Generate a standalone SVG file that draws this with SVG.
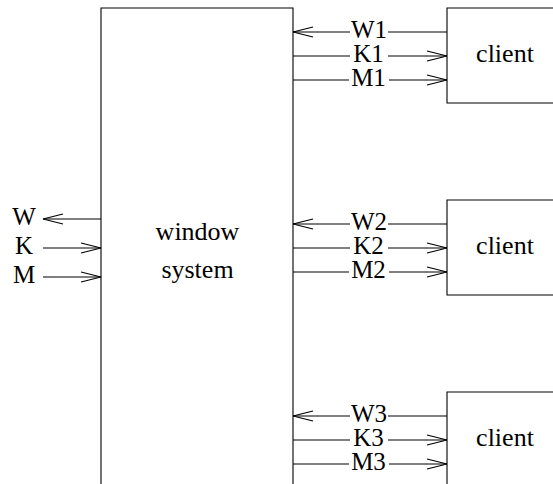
<svg xmlns="http://www.w3.org/2000/svg" width="553" height="484" viewBox="0 0 553 484">
<style>
.box{fill:none;stroke:#000;stroke-width:1.1}
.ln{fill:none;stroke:#000;stroke-width:1.1;marker-end:url(#ah)}
text{font-family:"Liberation Serif","Times New Roman",serif;fill:#000}
.lbl{font-size:25px;text-anchor:middle}
.big{font-size:26px;text-anchor:middle}
.bg{fill:#fff}
</style>
<defs>
<marker id="ah" markerUnits="userSpaceOnUse" viewBox="-22 -7 24 14" refX="0" refY="0" markerWidth="24" markerHeight="14" orient="auto">
<path d="M-20,-5 L0,0 L-20,5" fill="none" stroke="#000" stroke-width="1.1"/>
</marker>
</defs>
<rect width="553" height="484" fill="#fff"/>
<g id="window-system">
<path class="box" d="M101,500 V8 H293 V500"/>
<text class="big" x="197.5" y="240">window</text>
<text class="big" x="197.5" y="278">system</text>
</g>
<g id="client1">
<path class="box" d="M560,8 H447 V103 H560"/>
<text class="big" x="505" y="62">client</text>
</g>
<g id="client2">
<path class="box" d="M560,200 H447 V295 H560"/>
<text class="big" x="505" y="254">client</text>
</g>
<g id="client3">
<path class="box" d="M560,392 H447 V500"/>
<text class="big" x="505" y="446">client</text>
</g>
<g id="connectors">
<line class="ln" x1="101" y1="219" x2="43" y2="219"/>
<line class="ln" x1="43" y1="248" x2="101" y2="248"/>
<line class="ln" x1="43" y1="277" x2="101" y2="277"/>
<line class="ln" x1="447" y1="32" x2="293" y2="32"/>
<line class="ln" x1="293" y1="56" x2="447" y2="56"/>
<line class="ln" x1="293" y1="80" x2="447" y2="80"/>
<line class="ln" x1="447" y1="224" x2="293" y2="224"/>
<line class="ln" x1="293" y1="248" x2="447" y2="248"/>
<line class="ln" x1="293" y1="272" x2="447" y2="272"/>
<line class="ln" x1="447" y1="416" x2="293" y2="416"/>
<line class="ln" x1="293" y1="440" x2="447" y2="440"/>
<line class="ln" x1="293" y1="464" x2="447" y2="464"/>
</g>
<g id="labels">
<text class="lbl" x="24" y="225">W</text>
<text class="lbl" x="24" y="254">K</text>
<text class="lbl" x="24" y="283">M</text>
<rect class="bg" x="350" y="22" width="38" height="14"/>
<text class="lbl" x="369" y="37.5">W1</text>
<rect class="bg" x="350" y="46" width="38" height="14"/>
<text class="lbl" x="368.5" y="61.5">K1</text>
<rect class="bg" x="349" y="70" width="40" height="14"/>
<text class="lbl" x="368.5" y="85.5">M1</text>
<rect class="bg" x="350" y="214" width="38" height="14"/>
<text class="lbl" x="369" y="229.5">W2</text>
<rect class="bg" x="350" y="238" width="38" height="14"/>
<text class="lbl" x="368.5" y="253.5">K2</text>
<rect class="bg" x="349" y="262" width="40" height="14"/>
<text class="lbl" x="368.5" y="277.5">M2</text>
<rect class="bg" x="350" y="406" width="38" height="14"/>
<text class="lbl" x="369" y="421.5">W3</text>
<rect class="bg" x="350" y="430" width="38" height="14"/>
<text class="lbl" x="368.5" y="445.5">K3</text>
<rect class="bg" x="349" y="454" width="40" height="14"/>
<text class="lbl" x="368.5" y="469.5">M3</text>
</g>
</svg>
